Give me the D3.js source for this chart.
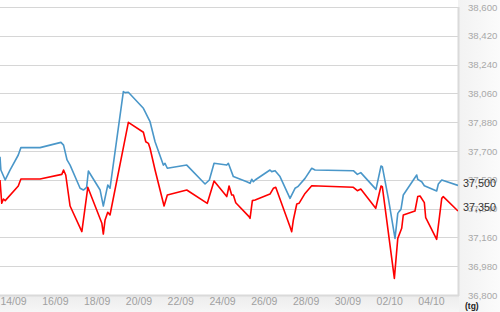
<!DOCTYPE html>
<html><head><meta charset="utf-8">
<script src="https://cdn.jsdelivr.net/npm/d3@7"></script>
<style>html,body{margin:0;padding:0;background:#fff;}svg{display:block;}</style>
</head><body>
<svg id="c" width="500" height="312"></svg>
<script>
const yTicks = [36800, 36980, 37160, 37340, 37520, 37700, 37880, 38060, 38240, 38420, 38600];
const xTickDates = ["2013-09-14","2013-09-16","2013-09-18","2013-09-20","2013-09-22","2013-09-24","2013-09-26","2013-09-28","2013-09-30","2013-10-02","2013-10-04"];
const unitLabel = "(tg)";

const blueTimes = ["09-13 09:00","09-13 10:00","09-13 15:00","09-13 20:30","09-14 06:00","09-14 09:00","09-15 07:00","09-16 07:00","09-16 10:00","09-16 14:00","09-16 17:30","09-17 05:00","09-17 08:45","09-17 12:30","09-17 14:30","09-18 04:00","09-18 07:40","09-18 12:45","09-18 15:20","09-19 06:40","09-19 08:40","09-19 12:25","09-20 05:40","09-20 07:35","09-20 11:25","09-20 13:20","09-20 19:05","09-21 04:35","09-21 06:30","09-21 09:10","09-22 07:30","09-23 04:30","09-23 09:25","09-23 14:50","09-24 05:25","09-24 07:15","09-24 13:00","09-25 04:25","09-25 08:10","09-25 10:05","09-25 12:00","09-25 14:00","09-26 07:05","09-26 09:00","09-26 12:55","09-26 18:35","09-27 06:05","09-27 11:50","09-27 15:00","09-27 23:20","09-28 07:00","09-28 10:50","09-30 06:50","09-30 11:25","09-30 15:20","10-01 08:50","10-01 14:35","10-01 16:05","10-01 23:00","10-02 06:40","10-02 09:50","10-02 11:15","10-02 13:30","10-02 16:10","10-03 07:35","10-03 08:45","10-03 13:20","10-03 16:20","10-04 06:30","10-04 08:25","10-04 12:20","10-05 07:00"];
const blueValues = [37664,37581,37519,37581,37675,37721,37721,37754,37737,37644,37612,37467,37456,37473,37575,37456,37356,37487,37467,38071,38065,38067,37967,37946,37904,37883,37758,37612,37623,37592,37612,37494,37519,37623,37612,37623,37540,37508,37498,37523,37508,37519,37581,37571,37577,37540,37404,37467,37477,37529,37592,37581,37577,37554,37565,37460,37606,37602,37404,37154,37310,37321,37335,37425,37550,37523,37508,37483,37450,37494,37519,37485];

const redTimes = ["09-13 09:00","09-13 11:00","09-13 12:55","09-13 15:00","09-14 06:00","09-14 09:00","09-15 07:00","09-16 08:00","09-16 10:00","09-16 12:30","09-16 17:30","09-17 07:00","09-17 13:50","09-18 06:00","09-18 07:40","09-18 09:40","09-18 12:45","09-18 15:20","09-19 12:25","09-20 05:40","09-20 08:25","09-20 11:25","09-20 13:20","09-20 19:05","09-21 05:25","09-21 09:10","09-22 07:30","09-23 07:05","09-23 14:50","09-24 05:25","09-24 08:05","09-24 11:05","09-24 13:00","09-24 15:45","09-25 07:00","09-25 08:10","09-25 10:50","09-25 14:00","09-26 07:05","09-26 10:55","09-26 13:40","09-27 06:05","09-27 08:00","09-27 09:55","09-27 13:50","09-27 16:25","09-27 23:20","09-28 07:00","09-30 06:50","09-30 11:25","09-30 15:20","10-01 08:30","10-01 14:35","10-01 16:05","10-02 05:55","10-02 09:50","10-02 14:20","10-02 16:10","10-03 05:35","10-03 08:45","10-03 11:25","10-03 16:20","10-03 17:55","10-04 06:30","10-04 12:20","10-04 14:05","10-05 07:00"];
const redValues = [37519,37373,37400,37390,37481,37525,37525,37554,37581,37550,37356,37196,37473,37248,37181,37269,37317,37300,37879,37817,37758,37748,37717,37581,37356,37425,37456,37373,37512,37415,37481,37425,37425,37377,37290,37279,37390,37394,37431,37467,37473,37227,37196,37269,37369,37373,37435,37483,37473,37452,37462,37342,37481,37477,36904,37154,37217,37300,37325,37415,37419,37377,37283,37148,37404,37415,37325];

const lastLabels = ["37,500", "37,350"];
const lastLabelValues = [37500, 37350];

const parse = d3.timeParse("%Y-%m-%d %H:%M");
const pt = s => parse("2013-" + s);
const blue = blueTimes.map((t,i)=>({t:pt(t), v:blueValues[i]}));
const red = redTimes.map((t,i)=>({t:pt(t), v:redValues[i]}));

const svg = d3.select("#c");
const W = 500, H = 312;
const plotL = 0, plotR = 458, plotT = 7, plotB = 295;
const FONT = "Liberation Sans, Arial, sans-serif";

// backgrounds
const defs = svg.append("defs");
const gr = defs.append("linearGradient").attr("id","rg").attr("x1",0).attr("x2",1).attr("y1",0).attr("y2",0);
gr.append("stop").attr("offset","0%").attr("stop-color","#f2f2f2");
gr.append("stop").attr("offset","100%").attr("stop-color","#fbfbfb");
const gb = defs.append("linearGradient").attr("id","bg").attr("x1",0).attr("x2",0).attr("y1",0).attr("y2",1);
gb.append("stop").attr("offset","0%").attr("stop-color","#ececec");
gb.append("stop").attr("offset","100%").attr("stop-color","#f6f6f6");
svg.append("rect").attr("x",0).attr("y",0).attr("width",W).attr("height",H).attr("fill","#fff");
svg.append("rect").attr("x",plotR).attr("y",0).attr("width",W-plotR).attr("height",H).attr("fill","url(#rg)");
svg.append("rect").attr("x",0).attr("y",plotB).attr("width",plotR+1).attr("height",H-plotB).attr("fill","url(#bg)");
svg.append("rect").attr("x",0).attr("y",0).attr("width",plotR).attr("height",plotB).attr("fill","#fff");

const x = d3.scaleTime().domain([pt("09-13 09:00"), pt("10-05 07:00")]).range([plotL, plotR]);
const y = d3.scaleLinear().domain([36800, 38600]).range([plotB, plotT]);

// gridlines
svg.append("g").selectAll("line").data(yTicks).join("line")
  .attr("x1", plotL).attr("x2", plotR)
  .attr("y1", d=>Math.round(y(d))+0.5).attr("y2", d=>Math.round(y(d))+0.5)
  .attr("stroke", "#d6d6d6").attr("stroke-width", 1.2);

// plot border (right & bottom)
svg.append("line").attr("x1",plotR+0.5).attr("x2",plotR+0.5).attr("y1",plotT).attr("y2",plotB+1)
  .attr("stroke","#dadada").attr("stroke-width",2);
svg.append("line").attr("x1",0).attr("x2",plotR+1).attr("y1",plotB+0.5).attr("y2",plotB+0.5)
  .attr("stroke","#dadada").attr("stroke-width",2);

// y axis on the right
const yAxis = d3.axisRight(y).tickValues(yTicks).tickSize(0).tickPadding(0)
  .tickFormat(d3.format(",d"));
const gy = svg.append("g").attr("transform", `translate(${plotR+10},0)`).call(yAxis);
gy.select(".domain").remove();
gy.selectAll("text").attr("fill","#a8a8a8").attr("font-family",FONT).attr("font-size","9.6px");

// x axis
const xAxis = d3.axisBottom(x).tickValues(xTickDates.map(d=>d3.timeParse("%Y-%m-%d")(d)))
  .tickSize(0).tickPadding(0).tickFormat(d3.timeFormat("%d/%m"));
const gx = svg.append("g").attr("transform", `translate(0,${plotB+3})`).call(xAxis);
gx.select(".domain").remove();
gx.selectAll("text").attr("fill","#a0a0a0").attr("font-family",FONT).attr("font-size","10.5px");

// lines
const clip = defs.append("clipPath").attr("id","pc").append("rect")
  .attr("x",plotL).attr("y",plotT).attr("width",plotR-plotL).attr("height",plotB-plotT);
const line = d3.line().x(d=>x(d.t)).y(d=>y(d.v));
const gl = svg.append("g").attr("clip-path","url(#pc)");
gl.append("path").datum(blue).attr("d",line).attr("fill","none").attr("stroke","#4a97c9").attr("stroke-width",1.6).attr("stroke-linejoin","round");
gl.append("path").datum(red).attr("d",line).attr("fill","none").attr("stroke","#ff0000").attr("stroke-width",1.6).attr("stroke-linejoin","round");

// last value labels
svg.append("g").selectAll("text").data(lastLabels).join("text")
  .attr("x", plotR+5).attr("y",(d,i)=>y(lastLabelValues[i]))
  .attr("dy","0.35em").text(d=>d)
  .attr("fill","#333").attr("font-family",FONT).attr("font-size","10.8px");

// unit label
svg.append("text").attr("x", plotR+7).attr("y", 309).text(unitLabel)
  .attr("fill","#222").attr("font-weight","bold").attr("font-family",FONT).attr("font-size","8.5px");
</script>
</body></html>
